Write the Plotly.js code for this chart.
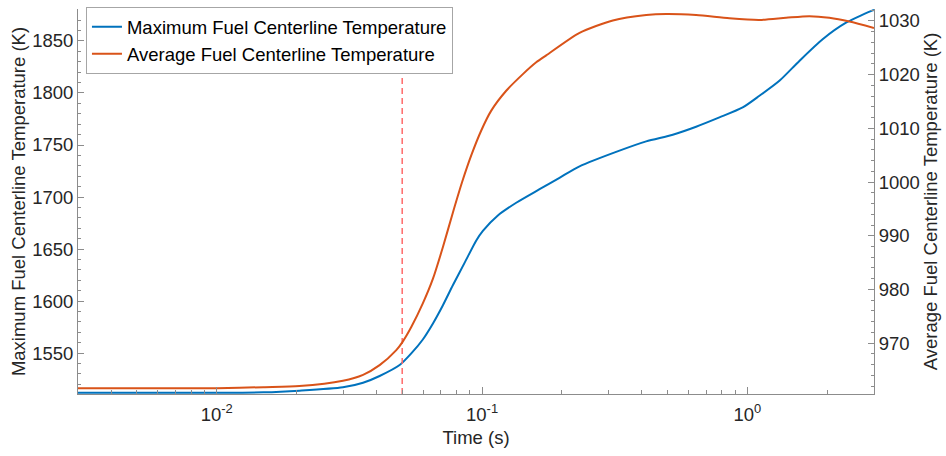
<!DOCTYPE html>
<html>
<head>
<meta charset="utf-8">
<script src="https://cdn.plot.ly/plotly-3.0.1.min.js"></script>
<style>html,body{margin:0;padding:0;background:#fff;}#chart{width:946px;height:456px;}</style>
</head>
<body>
<div id="chart"></div>
<script>
// Maximum fuel centerline temperature (K), left axis
const maxTime = [0.003, 0.006, 0.01, 0.015, 0.0205, 0.0299, 0.0356, 0.0411, 0.0489, 0.0541, 0.0598, 0.0653, 0.0712, 0.0776, 0.0859, 0.0951, 0.1007, 0.1147, 0.1345, 0.1647, 0.1958, 0.233, 0.3296, 0.4155, 0.5233, 0.6408, 0.7843, 0.96, 1.11, 1.32, 1.57, 1.921, 2.354, 2.965, 3.0];
const maxTemp = [1511.8, 1511.8, 1511.9, 1512.3, 1513.9, 1517.1, 1521.5, 1528.0, 1538.5, 1549.7, 1563.1, 1578.5, 1596.0, 1615.2, 1636.7, 1658.3, 1667.5, 1682.3, 1694.5, 1707.5, 1718.5, 1729.5, 1744.6, 1753.5, 1759.9, 1767.6, 1776.5, 1786.1, 1797.3, 1811.7, 1830.8, 1851.6, 1867.5, 1879.4, 1879.8];
// Average fuel centerline temperature (K), right axis
const avgTime = [0.003, 0.006, 0.01, 0.015, 0.0205, 0.0299, 0.0356, 0.0411, 0.0475, 0.0501, 0.0541, 0.0598, 0.0653, 0.0712, 0.0776, 0.0841, 0.0911, 0.0993, 0.1083, 0.1233, 0.1425, 0.16, 0.1745, 0.233, 0.311, 0.4155, 0.4942, 0.6408, 0.8554, 1.11, 1.399, 1.712, 2.036, 2.422, 3.0];
const avgTemp = [961.6, 961.6, 961.6, 961.8, 962.0, 963.0, 964.1, 965.9, 968.7, 970.2, 973.0, 977.4, 982.0, 987.9, 994.3, 1000.0, 1005.0, 1009.6, 1013.3, 1017.0, 1020.1, 1022.3, 1023.6, 1027.8, 1030.1, 1031.1, 1031.3, 1031.1, 1030.5, 1030.2, 1030.6, 1030.9, 1030.6, 1029.9, 1028.7];
// Marker time (s)
const markerTime = 0.05;
// Axis settings
const xRange = [0.003, 3];
const yLeftRange = [1510.7, 1880.7];
const yRightRange = [960.53, 1032.23];
const xTickVals = [0.01, 0.1, 1];
const xTickText = ['10<sup>-2</sup>', '10<sup>-1</sup>', '10<sup>0</sup>'];
const seriesNames = ['Maximum Fuel Centerline Temperature', 'Average Fuel Centerline Temperature'];

const minorX = [];
for (let d = -3; d <= 0; d++) {
  for (let m = 2; m <= 9; m++) {
    const v = m * Math.pow(10, d);
    if (v >= xRange[0] && v <= xRange[1]) minorX.push(v);
  }
}

const font = 'Liberation Sans, Arial, sans-serif';
const fs = 18.5;
const axisGray = '#8c8c8c';
const tickFontColor = '#262626';

const traces = [
  {x: maxTime, y: maxTemp, name: seriesNames[0], type: 'scatter', mode: 'lines',
   line: {color: '#0072BD', width: 2, shape: 'spline', smoothing: 0.7}, yaxis: 'y'},
  {x: avgTime, y: avgTemp, name: seriesNames[1], type: 'scatter', mode: 'lines',
   line: {color: '#D95319', width: 2, shape: 'spline', smoothing: 0.7}, yaxis: 'y2'},
  {x: [markerTime, markerTime], y: yLeftRange, type: 'scatter', mode: 'lines', showlegend: false,
   line: {color: '#ff6b6b', width: 1.5, dash: '6px,4px'}, yaxis: 'y', hoverinfo: 'skip'}
];

const layout = {
  width: 946, height: 456,
  margin: {l: 78, r: 72, t: 8, b: 62},
  paper_bgcolor: '#fff', plot_bgcolor: '#fff',
  font: {family: font, size: fs, color: tickFontColor},
  showlegend: true,
  legend: {x: 0.01, y: 1.002, xanchor: 'left', yanchor: 'top', bgcolor: '#fff',
           bordercolor: '#a6a6a6', borderwidth: 1, font: {family: font, size: fs, color: '#000'},
           tracegroupgap: 0, itemwidth: 30},
  xaxis: {type: 'log', range: [Math.log10(xRange[0]), Math.log10(xRange[1])],
          tickmode: 'array', tickvals: xTickVals, ticktext: xTickText,
          ticks: 'inside', ticklen: 7, tickwidth: 1, tickcolor: axisGray,
          showline: true, linecolor: axisGray, linewidth: 1, mirror: false,
          showgrid: false, zeroline: false, ticklabelstandoff: 4,
          minor: {tickmode: 'array', tickvals: minorX, ticks: 'inside', ticklen: 4, tickcolor: axisGray, showgrid: false},
          tickfont: {size: fs, color: tickFontColor},
          title: {text: 'Time (s)', font: {size: fs, color: tickFontColor}, standoff: 6}},
  yaxis: {range: yLeftRange, tickmode: 'linear', tick0: 1550, dtick: 50,
          ticks: 'inside', ticklen: 6, tickwidth: 1, tickcolor: axisGray,
          showline: true, linecolor: axisGray, linewidth: 1,
          showgrid: false, zeroline: false,
          minor: {dtick: 10, tick0: 1550, ticks: 'inside', ticklen: 3, tickcolor: axisGray, showgrid: false},
          tickfont: {size: fs, color: tickFontColor},
          title: {text: 'Maximum Fuel Centerline Temperature (K)', font: {size: fs, color: tickFontColor}, standoff: 1}},
  yaxis2: {range: yRightRange, overlaying: 'y', side: 'right', anchor: 'x',
           tickmode: 'linear', tick0: 970, dtick: 10,
           ticks: 'inside', ticklen: 6, tickwidth: 1, tickcolor: axisGray,
           showline: true, linecolor: axisGray, linewidth: 1,
           showgrid: false, zeroline: false,
           minor: {dtick: 2, tick0: 970, ticks: 'inside', ticklen: 3, tickcolor: axisGray, showgrid: false},
           tickfont: {size: fs, color: tickFontColor},
           title: {text: 'Average Fuel Centerline Temperature (K)', font: {size: fs, color: tickFontColor}, standoff: 3}}
};

Plotly.newPlot('chart', traces, layout, {displayModeBar: false, staticPlot: true});
</script>
</body>
</html>
